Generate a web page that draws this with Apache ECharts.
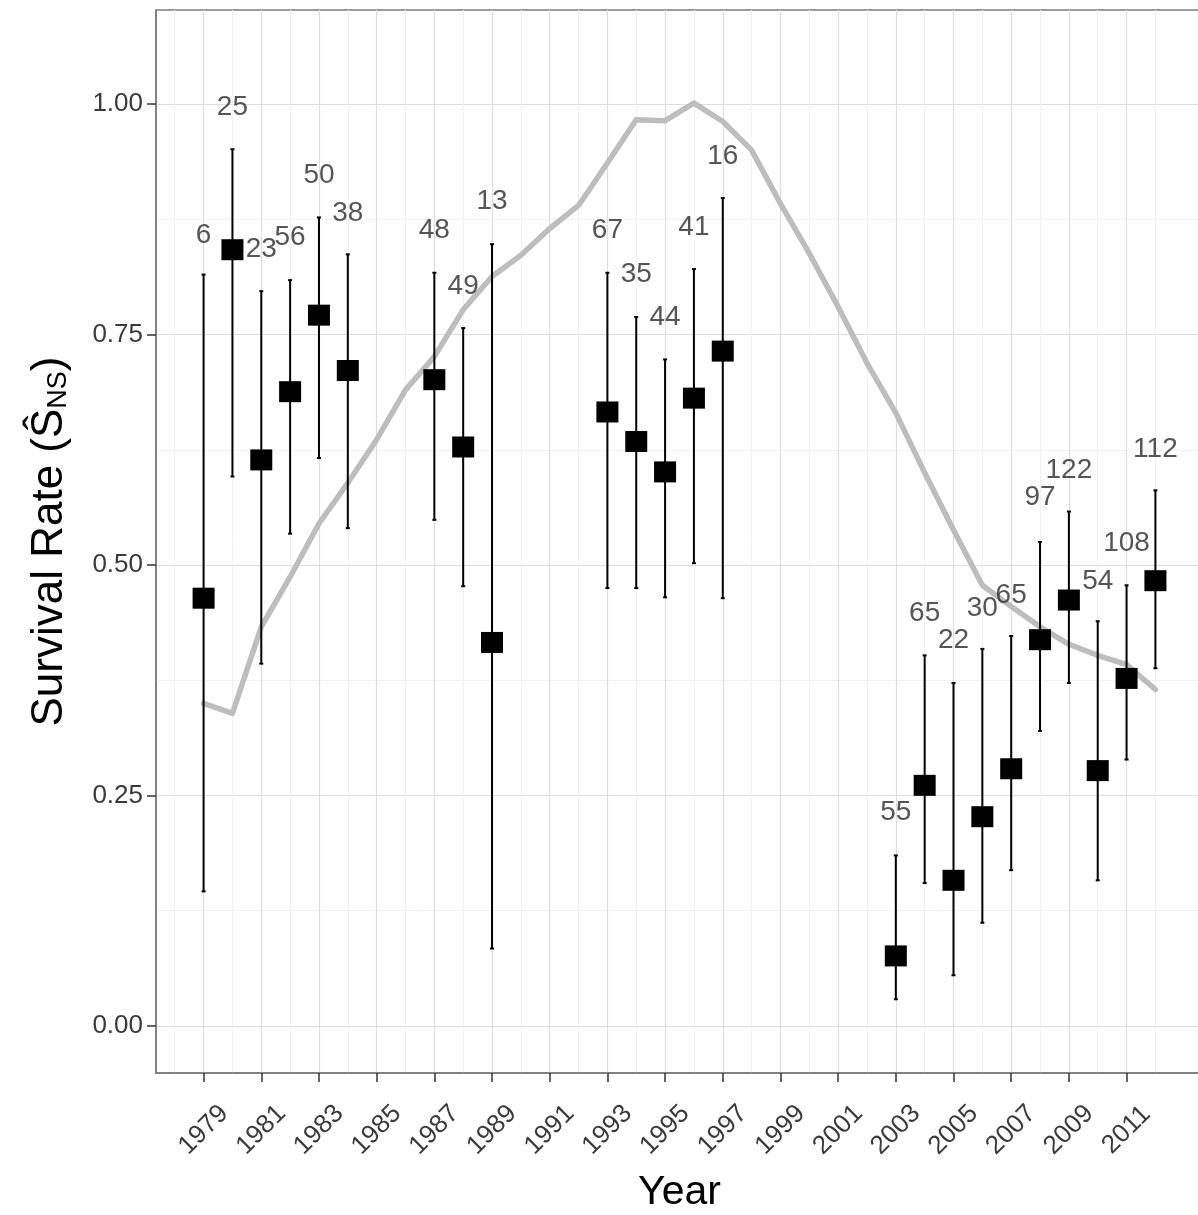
<!DOCTYPE html>
<html><head><meta charset="utf-8">
<script src="https://cdn.jsdelivr.net/npm/echarts@6/dist/echarts.min.js"></script>
<style>html,body{margin:0;padding:0;background:#fff}#c{width:1198px;height:1215px}</style>
</head><body><div id="c"></div>
<script>
// ---- data ----
const years      = [1979,1980,1981,1982,1983,1984,1987,1988,1989,1993,1994,1995,1996,1997,2003,2004,2005,2006,2007,2008,2009,2010,2011,2012];
const estimates  = [0.464,0.842,0.614,0.688,0.771,0.711,0.701,0.628,0.416,0.666,0.634,0.601,0.681,0.732,0.076,0.261,0.158,0.227,0.279,0.419,0.462,0.277,0.377,0.483];
const upperCI    = [0.815,0.951,0.797,0.809,0.877,0.837,0.817,0.757,0.848,0.817,0.769,0.723,0.821,0.898,0.185,0.402,0.372,0.409,0.423,0.525,0.558,0.439,0.478,0.581];
const lowerCI    = [0.146,0.596,0.393,0.534,0.616,0.540,0.549,0.477,0.084,0.475,0.475,0.465,0.502,0.464,0.029,0.155,0.055,0.112,0.169,0.320,0.372,0.158,0.289,0.388];
const sampleSize = [6,25,23,56,50,38,48,49,13,67,35,44,41,16,55,65,22,30,65,97,122,54,108,112];
const labelLevel = [0.858,0.996,0.843,0.855,0.923,0.882,0.863,0.802,0.894,0.863,0.815,0.769,0.866,0.943,0.232,0.448,0.418,0.453,0.467,0.573,0.603,0.482,0.524,0.625];

const trendYears  = [1979,1980,1981,1982,1983,1984,1985,1986,1987,1988,1989,1990,1991,1992,1993,1994,1995,1996,1997,1998,1999,2000,2001,2002,2003,2004,2005,2006,2007,2008,2009,2010,2011,2012];
const trendValues = [0.350,0.339,0.433,0.487,0.545,0.589,0.636,0.690,0.726,0.777,0.813,0.836,0.865,0.890,0.936,0.983,0.982,1.001,0.981,0.950,0.892,0.838,0.780,0.719,0.665,0.600,0.538,0.478,0.455,0.433,0.414,0.402,0.392,0.365];

const xTickYears  = [1979,1981,1983,1985,1987,1989,1991,1993,1995,1997,1999,2001,2003,2005,2007,2009,2011];
const xMinorYears = [1978,1980,1982,1984,1986,1988,1990,1992,1994,1996,1998,2000,2002,2004,2006,2008,2010,2012];
const yTicks      = [0,0.25,0.5,0.75,1.0];
const yMinor      = [0.125,0.375,0.625,0.875];

// ---- chart ----
const FONT = '"Liberation Sans", Arial, sans-serif';
const chart = echarts.init(document.getElementById('c'), null, {renderer:'canvas'});

const errData = years.map((y,i)=>[y, lowerCI[i], upperCI[i]]);
const ptData  = years.map((y,i)=>[y, estimates[i]]);
const lblData = years.map((y,i)=>[y, labelLevel[i], sampleSize[i]]);
const trendData = trendYears.map((y,i)=>[y, trendValues[i]]);

const X_MIN = 1977.35, X_MAX = 2013.65, Y_MIN = -0.051, Y_MAX = 1.102;

chart.setOption({
  animation: false,
  backgroundColor: '#fff',
  grid: { left: 156, right: -5, top: 10, bottom: 142, containLabel: false, outerBoundsMode: 'none',
          show: true, borderColor: '#7a7a7a', borderWidth: 1.5, backgroundColor: 'transparent' },
  xAxis: [
    {
      type: 'value', min: X_MIN, max: X_MAX, gridIndex: 0,
      name: 'Year', nameLocation: 'middle', nameGap: 99,
      nameTextStyle: { fontSize: 41, color: '#000', fontFamily: FONT },
      axisLine: { show: true, onZero: false, lineStyle: { color: '#7a7a7a', width: 1.5 } },
      axisTick: { show: true, length: 9, customValues: xTickYears, lineStyle: { color: '#333', width: 1.5 } },
      axisLabel: { show: true, customValues: xTickYears, rotate: 45, align: 'center', verticalAlign: 'middle', margin: 57,
                   fontSize: 26, color: '#3a3a3a', fontFamily: FONT, formatter: v => String(Math.round(v)) },
      splitLine: { show: true, lineStyle: { color: '#dedede', width: 1.2 } }
    },
    {
      type: 'value', min: X_MIN, max: X_MAX, gridIndex: 0,
      axisLine: { show: false }, axisTick: { show: false, customValues: xMinorYears },
      axisLabel: { show: false, customValues: xMinorYears },
      splitLine: { show: true, lineStyle: { color: '#f2f2f2', width: 1 } }
    }
  ],
  yAxis: [
    {
      type: 'value', min: Y_MIN, max: Y_MAX, gridIndex: 0,
      name: '{a|Survival Rate (}{a|Ŝ}{s|NS}{a|)}', nameLocation: 'middle', nameGap: 84,
      nameTextStyle: { fontFamily: FONT, color: '#000',
        rich: { a: { fontSize: 44, lineHeight: 44, color: '#000', fontFamily: FONT },
                s: { fontSize: 27, lineHeight: 16, verticalAlign: 'bottom', color: '#000', fontFamily: FONT } } },
      axisLine: { show: true, onZero: false, lineStyle: { color: '#7a7a7a', width: 1.5 } },
      axisTick: { show: true, length: 9, customValues: yTicks, lineStyle: { color: '#333', width: 1.5 } },
      axisLabel: { show: true, customValues: yTicks, margin: 13, fontSize: 26, color: '#3a3a3a', fontFamily: FONT,
                   formatter: v => v.toFixed(2) },
      splitLine: { show: true, lineStyle: { color: '#dedede', width: 1.2 } }
    },
    {
      type: 'value', min: Y_MIN, max: Y_MAX, gridIndex: 0,
      axisLine: { show: false }, axisTick: { show: false, customValues: yMinor },
      axisLabel: { show: false, customValues: yMinor },
      splitLine: { show: true, lineStyle: { color: '#f2f2f2', width: 1 } }
    }
  ],
  series: [
    {
      type: 'line', xAxisIndex: 0, yAxisIndex: 0, data: trendData,
      showSymbol: false, symbol: 'none', smooth: false,
      lineStyle: { color: '#bdbdbd', width: 5.5, join: 'round', cap: 'round' }, z: 2
    },
    {
      type: 'custom', xAxisIndex: 0, yAxisIndex: 0, data: errData, z: 3,
      encode: { x: 0, y: [1, 2] },
      renderItem: function (params, api) {
        const x = api.value(0), lo = api.value(1), hi = api.value(2);
        const pHi = api.coord([x, hi]), pLo = api.coord([x, lo]);
        const c = 2;
        const st = { stroke: '#000', lineWidth: 2 };
        return { type: 'group', children: [
          { type: 'line', shape: { x1: pHi[0], y1: pHi[1], x2: pLo[0], y2: pLo[1] }, style: st },
          { type: 'line', shape: { x1: pHi[0]-c, y1: pHi[1], x2: pHi[0]+c, y2: pHi[1] }, style: st },
          { type: 'line', shape: { x1: pLo[0]-c, y1: pLo[1], x2: pLo[0]+c, y2: pLo[1] }, style: st }
        ]};
      }
    },
    {
      type: 'scatter', xAxisIndex: 0, yAxisIndex: 0, data: ptData, z: 4,
      symbol: 'rect', symbolSize: [22, 21], itemStyle: { color: '#000', opacity: 1 }
    },
    {
      type: 'scatter', xAxisIndex: 0, yAxisIndex: 0, data: lblData, z: 5,
      symbolSize: 1, itemStyle: { color: 'rgba(0,0,0,0)' },
      label: { show: true, position: 'inside', formatter: p => String(p.value[2]),
               fontSize: 28, color: '#2b2b2b', fontFamily: FONT }
    }
  ]
});
</script></body></html>
